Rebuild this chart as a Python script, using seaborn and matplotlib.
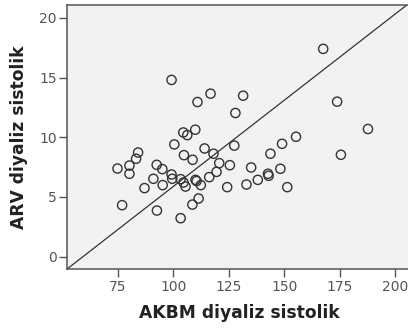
import matplotlib
matplotlib.use("Agg")
import matplotlib.pyplot as plt
import seaborn as sns
import pandas as pd

akbm = [167.6, 99.2, 116.8, 110.9, 131.5, 128.0, 173.9, 187.8, 109.9, 104.5,
        106.3, 155.35, 100.45, 149.05, 127.5, 114.1, 84.1, 83.2, 104.8, 118.1,
        108.7, 143.8, 175.6, 80.2, 74.8, 80.2, 92.5, 95.05, 99.2, 99.5,
        91.0, 87.0, 95.2, 103.3, 104.6, 105.5, 110.0, 110.5, 112.4, 116.2,
        119.5, 120.7, 125.5, 124.3, 133.0, 135.1, 138.1, 142.7, 143.0, 148.3,
        151.4, 76.9, 92.6, 103.3, 108.6, 111.4]
arv = [17.4, 14.8, 13.65, 12.95, 13.48, 12.03, 12.98, 10.69, 10.63, 10.4,
       10.18, 10.04, 9.4, 9.45, 9.3, 9.06, 8.72, 8.2, 8.5, 8.62,
       8.11, 8.62, 8.53, 7.63, 7.38, 6.94, 7.69, 7.33, 6.88, 6.52,
       6.52, 5.74, 5.99, 6.49, 6.21, 5.87, 6.43, 6.33, 5.99, 6.66,
       7.1, 7.83, 7.66, 5.82, 6.04, 7.47, 6.43, 6.94, 6.77, 7.36,
       5.82, 4.31, 3.86, 3.22, 4.36, 4.87]

x_ticks = [75, 100, 125, 150, 175, 200]
y_ticks = [0, 5, 10, 15, 20]
line_x = [51.9, 205.5]
line_y = [-1.06, 21.1]

df = pd.DataFrame({"AKBM diyaliz sistolik": akbm, "ARV diyaliz sistolik": arv})

sns.set_theme(style="white")
plt.rcParams['font.family'] = ['DejaVu Sans']

fig = plt.figure(figsize=(4.08, 3.31), dpi=100)
right_px = 413.0
ax = fig.add_axes([66.7 / 408, 61.7 / 331, (right_px - 66.7) / 408, 264.6 / 331])
ax.set_facecolor("#f2f2f2")

sns.scatterplot(data=df, x="AKBM diyaliz sistolik", y="ARV diyaliz sistolik", ax=ax,
                s=44, facecolor="none", edgecolor="#333333", linewidth=1.0, zorder=3)
sns.lineplot(x=line_x, y=line_y, ax=ax, color="#333333", linewidth=0.9, zorder=2)

ax.set_xlim(51.9, 100 + (right_px - 173.3) / 2.217)
ax.set_ylim(-1.06, 21.1)
ax.set_xticks(x_ticks)
ax.set_yticks(y_ticks)
ax.tick_params(axis="both", direction="out", length=5.5, width=1.0, color="#555555",
               labelcolor="#555555", labelsize=10, left=True, bottom=True)
ax.tick_params(axis="x", pad=2.5)
ax.tick_params(axis="y", pad=1.5)
for sp in ax.spines.values():
    sp.set_color("#555555")
    sp.set_linewidth(1.1)

ax.set_xlabel("AKBM diyaliz sistolik", fontsize=12.3, fontweight="bold", color="#222222", labelpad=7)
ax.set_ylabel("ARV diyaliz sistolik", fontsize=12.3, fontweight="bold", color="#222222", labelpad=8)

fig.savefig("out.png", dpi=100)
